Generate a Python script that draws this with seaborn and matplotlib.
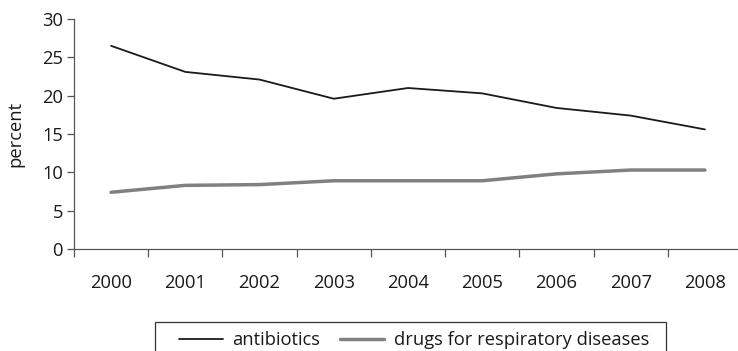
import matplotlib
matplotlib.use("Agg")
import matplotlib.pyplot as plt
from matplotlib.patches import Rectangle
import seaborn as sns
import pandas as pd
import numpy as np

years = ["2000", "2001", "2002", "2003", "2004", "2005", "2006", "2007", "2008"]
antibiotics = [26.5, 23.1, 22.1, 19.6, 21.0, 20.3, 18.4, 17.4, 15.6]
respiratory = [7.4, 8.3, 8.4, 8.9, 8.9, 8.9, 9.8, 10.3, 10.3]
series_names = ["antibiotics", "drugs for respiratory diseases"]

sns.set_style("white")
plt.rcParams["font.family"] = ["Open Sans", "DejaVu Sans"]
FS = 13.2

W, H = 738, 351
pos = np.arange(len(years))
df = pd.DataFrame({
    "pos": np.concatenate([pos, pos]),
    "value": antibiotics + respiratory,
    "series": [series_names[0]] * len(years) + [series_names[1]] * len(years),
})

fig = plt.figure(figsize=(W / 100, H / 100), dpi=100)
ax = fig.add_axes([74 / W, 1 - 249 / H, 668 / W, 230 / H])

sns.lineplot(data=df, x="pos", y="value", hue="series", size="series",
             palette={series_names[0]: "#1a1a1a", series_names[1]: "#808080"},
             sizes={series_names[0]: 1.3, series_names[1]: 2.5},
             ax=ax, legend=False)

ax.set_xlim(-0.5, len(years) - 0.5)
ax.set_ylim(0, 30)
ax.set_yticks(range(0, 31, 5))
ax.set_xticks(np.arange(-0.5, len(years), 1.0))
ax.set_xticklabels([])
ax.set_xticks(pos, minor=True)
ax.set_xticklabels(years, minor=True)
ax.tick_params(axis="x", which="major", direction="out", length=5.5, width=0.9,
               color="#555555", bottom=True)
ax.tick_params(axis="x", which="minor", length=0, pad=18, labelsize=FS,
               labelcolor="#1a1a1a")
ax.tick_params(axis="y", direction="out", length=5, width=0.9, color="#555555",
               left=True, labelsize=FS, pad=3, labelcolor="#1a1a1a")
ax.set_xlabel("")
ax.set_ylabel("percent", fontsize=FS, labelpad=12.5, color="#1a1a1a")

for side in ["top", "right"]:
    ax.spines[side].set_visible(False)
for side in ["left", "bottom"]:
    ax.spines[side].set_color("#555555")
    ax.spines[side].set_linewidth(0.9)

# legend box, open at the bottom edge of the figure
fig.patches.append(Rectangle((155 / W, -0.05), 511 / W, 0.05 + 1 - 322 / H,
                             transform=fig.transFigure, fill=False,
                             edgecolor="#333333", linewidth=0.9))

handles = [
    plt.Line2D([], [], color="#1a1a1a", lw=1.3),
    plt.Line2D([], [], color="#808080", lw=2.5),
]
leg = fig.legend(handles, series_names, loc="center left",
                 bbox_to_anchor=(179 / W, 1 - 340 / H), ncol=2, frameon=False,
                 handlelength=2.4, handletextpad=0.5, columnspacing=1.1,
                 fontsize=FS, borderpad=0, borderaxespad=0,
                 labelcolor="#1a1a1a")

fig.savefig("out.png", dpi=100)
